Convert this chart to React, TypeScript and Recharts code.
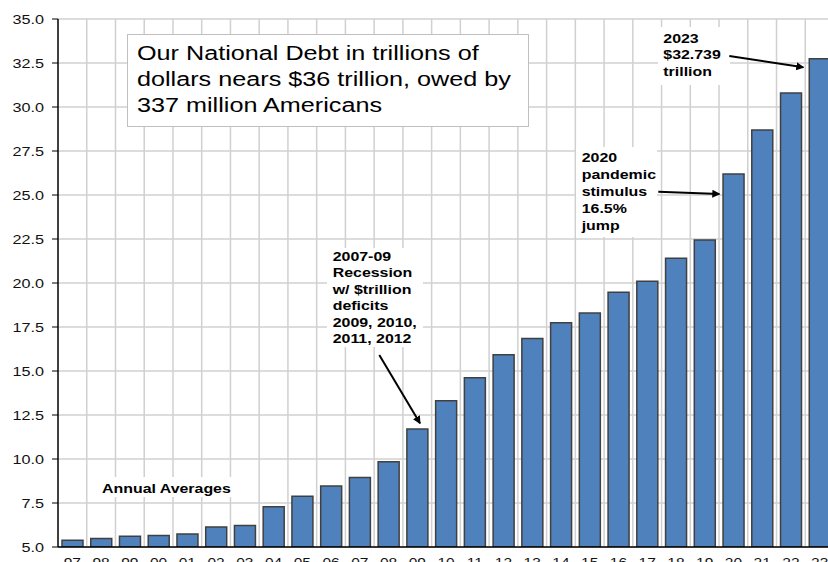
import { BarChart, Bar, XAxis, YAxis, CartesianGrid } from "recharts";

const years = [
  "97", "98", "99", "00", "01", "02", "03", "04", "05", "06", "07", "08", "09",
  "10", "11", "12", "13", "14", "15", "16", "17", "18", "19", "20", "21", "22", "23",
];
const debt = [
  5.38, 5.48, 5.61, 5.65, 5.74, 6.14, 6.22, 7.28, 7.88, 8.46, 8.95, 9.85, 11.7,
  13.31, 14.62, 15.93, 16.84, 17.74, 18.3, 19.47, 20.1, 21.4, 22.45, 26.2, 28.7, 30.8, 32.739,
];
const yTicks = [5, 7.5, 10, 12.5, 15, 17.5, 20, 22.5, 25, 27.5, 30, 32.5, 35];

const titleLines = [
  "Our National Debt in trillions of",
  "dollars nears $36 trillion, owed by",
  "337 million Americans",
];
const recessionLines = ["2007-09", "Recession", "w/ $trillion", "deficits", "2009, 2010,", "2011, 2012"];
const pandemicLines = ["2020", "pandemic", "stimulus", "16.5%", "jump"];
const latestLines = ["2023", "$32.739", "trillion"];

const data = years.map((y, i) => ({ year: y, debt: debt[i] }));

const FONT = "'Liberation Sans', Arial, sans-serif";

const YTick = ({ x, y, payload }: any) => (
  <text
    transform={`translate(${x},${y}) scale(1.2,1)`}
    textAnchor="end"
    dy="0.35em"
    fontSize={13.5}
    fontFamily={FONT}
    fill="#111"
  >
    {Number(payload.value).toFixed(1)}
  </text>
);

const XTick = ({ x, y, payload }: any) => (
  <text
    transform={`translate(${x},${y}) scale(1.15,1)`}
    textAnchor="middle"
    dy="0.71em"
    fontSize={13.5}
    fontFamily={FONT}
    fill="#111"
  >
    {payload.value}
  </text>
);

// bold annotation block, lines stacked from the first baseline
const Note = ({ x, y, lines, step }: { x: number; y: number; lines: string[]; step: number }) => (
  <g>
    {lines.map((t, i) => (
      <text
        key={i}
        transform={`translate(${x},${y + i * step}) scale(1.18,1)`}
        fontSize={13.5}
        fontWeight="bold"
        fontFamily={FONT}
        fill="#000"
      >
        {t}
      </text>
    ))}
  </g>
);

export default function App() {
  return (
    <div
      style={{
        position: "absolute",
        left: 0,
        top: 0,
        width: 828,
        height: 562,
        overflow: "hidden",
        background: "#fff",
      }}
    >
      <BarChart
        width={840}
        height={580}
        data={data}
        margin={{ top: 19, right: 6, bottom: 0, left: 0 }}
      >
        <CartesianGrid
          stroke="#d0d0d0"
          strokeWidth={1.5}
          verticalCoordinatesGenerator={({ offset }: any) => {
            const left = offset?.left ?? 58;
            const width = offset?.width ?? 776;
            return years.map((_, i) => left + ((i + 1) * width) / years.length);
          }}
        />
        <XAxis
          dataKey="year"
          height={33}
          interval={0}
          tickLine={false}
          tickSize={0}
          tickMargin={10}
          tick={<XTick />}
          axisLine={{ stroke: "#000", strokeWidth: 1.5 }}
        />
        <YAxis
          width={58}
          domain={[5, 35]}
          ticks={yTicks}
          allowDataOverflow
          tickSize={6}
          tickMargin={8}
          tick={<YTick />}
          axisLine={{ stroke: "#000", strokeWidth: 1.5 }}
          tickLine={{ stroke: "#000" }}
        />
        <Bar
          dataKey="debt"
          barSize={21}
          fill="#4F81BD"
          stroke="#404040"
          strokeWidth={1.5}
          isAnimationActive={false}
        />
      </BarChart>
      <svg
        width={828}
        height={562}
        style={{ position: "absolute", left: 0, top: 0, pointerEvents: "none" }}
      >
        <defs>
          <marker id="head" markerWidth="8" markerHeight="8" refX="7" refY="4" orient="auto" markerUnits="userSpaceOnUse">
            <path d="M0,0 L8,4 L0,8 z" fill="#000" />
          </marker>
        </defs>
        <rect x={127.5} y={34.5} width={401} height={92} fill="#fff" stroke="#c0c0c0" strokeWidth={1} />
        {titleLines.map((t, i) => (
          <text
            key={i}
            transform={`translate(137,${60 + i * 26}) scale(1.2,1)`}
            fontSize={21}
            fontFamily={FONT}
            fill="#000"
          >
            {t}
          </text>
        ))}
        <rect x={95} y={477} width={145} height={20} fill="#fff" />
        <Note x={102} y={492.5} lines={["Annual Averages"]} step={0} />
        <rect x={327} y={248} width={96} height={99} fill="#fff" />
        <Note x={332.7} y={260.7} lines={recessionLines} step={16.5} />
        <rect x={576} y={147} width={81} height={90} fill="#fff" />
        <Note x={581.7} y={161.7} lines={pandemicLines} step={17} />
        <rect x={658} y={27} width={72} height={58} fill="#fff" />
        <Note x={663.3} y={42.7} lines={latestLines} step={16.7} />
        <line x1={379.3} y1={355} x2={420} y2={423.3} stroke="#000" strokeWidth={2} markerEnd="url(#head)" />
        <line x1={658.3} y1={191.7} x2={719.3} y2={194} stroke="#000" strokeWidth={2} markerEnd="url(#head)" />
        <line x1={729.3} y1={56} x2={803.3} y2={67.3} stroke="#000" strokeWidth={2} markerEnd="url(#head)" />
      </svg>
    </div>
  );
}
